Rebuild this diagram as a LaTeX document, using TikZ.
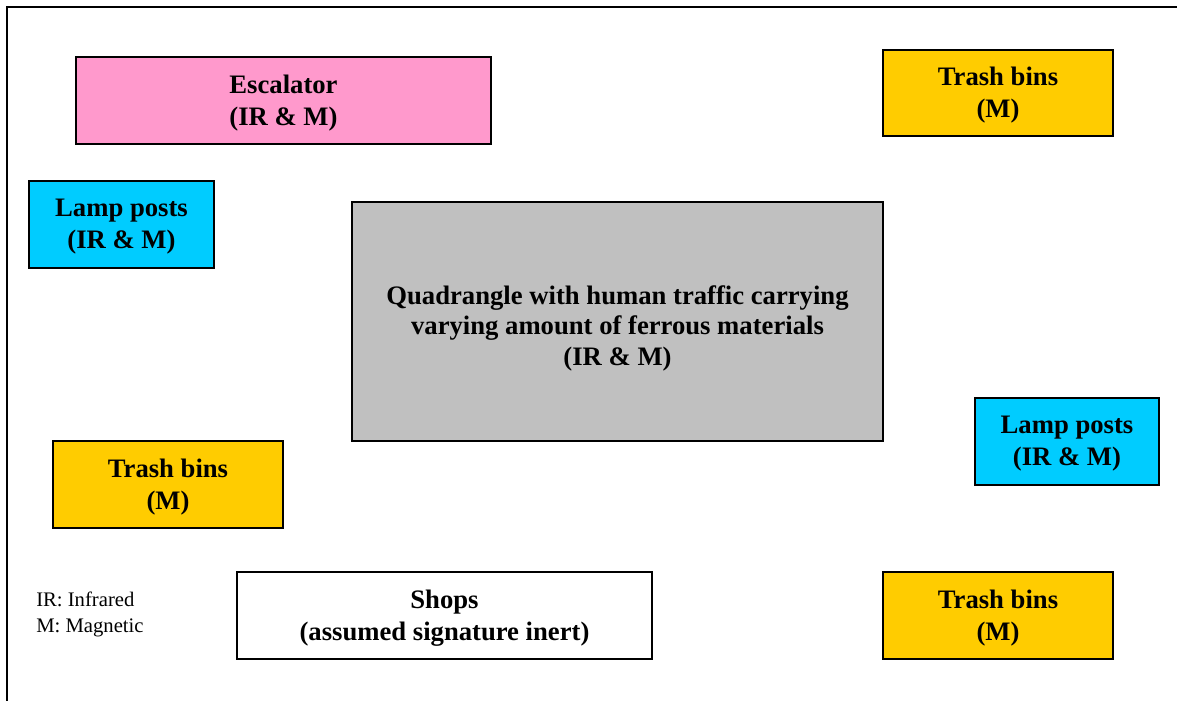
\documentclass[tikz,border=0pt]{standalone}
\usepackage{fontspec}
\setmainfont{Liberation Serif}
\begin{document}
\begin{tikzpicture}[x=0.75pt,y=-0.75pt,
  area/.style={draw=black,line width=1.3pt,inner sep=0pt,align=center,text depth=1pt,
    font=\fontsize{20}{24}\selectfont\bfseries},
  legend/.style={inner sep=0pt,align=left,anchor=north west,
    font=\fontsize{15.5}{19}\selectfont}]
\definecolor{pinkc}{HTML}{FF99CC}
\definecolor{yellowc}{HTML}{FFCC00}
\definecolor{cyanc}{HTML}{00CCFF}
\definecolor{grayc}{HTML}{C0C0C0}
\useasboundingbox (0,0) rectangle (1177,700);
\draw[line width=1.5pt] (7,720) -- (7,7) -- (1190,7);
\node[area,fill=pinkc,minimum width=415*0.75pt,minimum height=87*0.75pt] (esc) at (283.5,100.5) {Escalator\\(IR \& M)};
\node[area,fill=yellowc,minimum width=230*0.75pt,minimum height=86*0.75pt] (tb1) at (998,93) {Trash bins\\(M)};
\node[area,fill=cyanc,minimum width=185*0.75pt,minimum height=87*0.75pt] (lp1) at (121.5,224.5) {Lamp posts\\(IR \& M)};
\node[area,fill=grayc,minimum width=531*0.75pt,minimum height=239*0.75pt,
  font=\fontsize{20}{23}\selectfont\bfseries,text height=67pt] (quad) at (617.5,321.5) {Quadrangle with human traffic carrying\\varying amount of ferrous materials\\(IR \& M)};
\node[area,fill=cyanc,minimum width=184*0.75pt,minimum height=87*0.75pt] (lp2) at (1067,441.5) {Lamp posts\\(IR \& M)};
\node[area,fill=yellowc,minimum width=230*0.75pt,minimum height=87*0.75pt] (tb2) at (168,484.5) {Trash bins\\(M)};
\node[area,fill=white,minimum width=415*0.75pt,minimum height=87*0.75pt] (shops) at (444.5,615.5) {Shops\\(assumed signature inert)};
\node[area,fill=yellowc,minimum width=230*0.75pt,minimum height=87*0.75pt] (tb3) at (998,615.5) {Trash bins\\(M)};
\node[legend] (leg) at (36,592) {IR: Infrared\\M: Magnetic};
\end{tikzpicture}
\end{document}
